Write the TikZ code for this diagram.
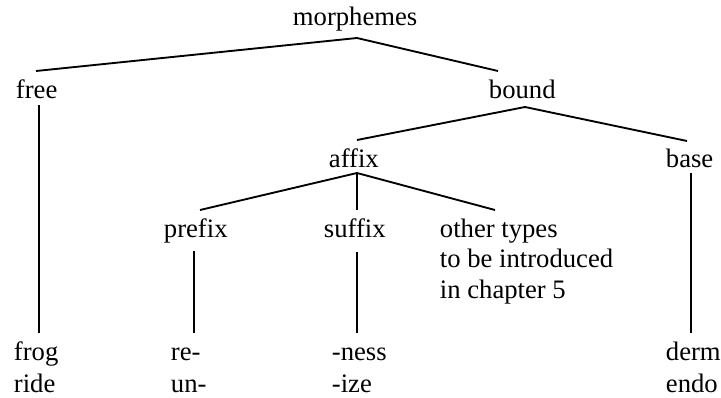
\documentclass[tikz,border=0pt]{standalone}
\usepackage{fontspec}
\setmainfont{Liberation Serif}
\begin{document}
\begin{tikzpicture}[x=0.75pt,y=-0.75pt,line width=1.4pt,
  every node/.style={font=\fontsize{20}{23}\selectfont,inner sep=0pt,anchor=base west}]
\useasboundingbox (0,0) rectangle (721,397);
% labels of the tree
\node (morphemes) at (292,25) {morphemes};
\node (free) at (15,98) {free};
\node (bound) at (488,98) {bound};
\node (affix) at (328,167) {affix};
\node (base) at (665,167) {base};
\node (prefix) at (163,237) {prefix};
\node (suffix) at (323,237) {suffix};
\node (other) at (439,237) {\begin{tabular}[t]{@{}l@{}}other types\\to be introduced\\in chapter 5\end{tabular}};
% examples at the foot
\node (freeex) at (13,360) {\begin{tabular}[t]{@{}l@{}}frog\\[1pt]ride\end{tabular}};
\node (prefixex) at (170,360) {\begin{tabular}[t]{@{}l@{}}re-\\[1pt]un-\end{tabular}};
\node (suffixex) at (331,360) {\begin{tabular}[t]{@{}l@{}}-ness\\[1pt]-ize\end{tabular}};
\node (baseex) at (665,360) {\begin{tabular}[t]{@{}l@{}}derm\\[1pt]endo\end{tabular}};
% joints
\coordinate (morphemes-fork) at (357,38);
\coordinate (free-in) at (36,71);
\coordinate (bound-in) at (498,71);
\coordinate (bound-fork) at (525,107);
\coordinate (affix-in) at (357,140);
\coordinate (base-in) at (687,141);
\coordinate (affix-fork) at (357,173);
\coordinate (prefix-in) at (200,210);
\coordinate (suffix-in) at (357,210);
\coordinate (other-in) at (495,210);
\coordinate (free-out) at (39,105);
\coordinate (freeex-in) at (39,333);
\coordinate (base-out) at (691,173);
\coordinate (baseex-in) at (691,333);
\coordinate (prefix-out) at (194,251);
\coordinate (prefixex-in) at (194,333);
\coordinate (suffix-out) at (357,252);
\coordinate (suffixex-in) at (357,333);
% branches
\draw (free-in) -- (morphemes-fork) -- (bound-in);
\draw (affix-in) -- (bound-fork) -- (base-in);
\draw (prefix-in) -- (affix-fork) -- (other-in);
\draw (affix-fork) -- (suffix-in);
\draw (free-out) -- (freeex-in);
\draw (base-out) -- (baseex-in);
\draw (prefix-out) -- (prefixex-in);
\draw (suffix-out) -- (suffixex-in);
\end{tikzpicture}
\end{document}
